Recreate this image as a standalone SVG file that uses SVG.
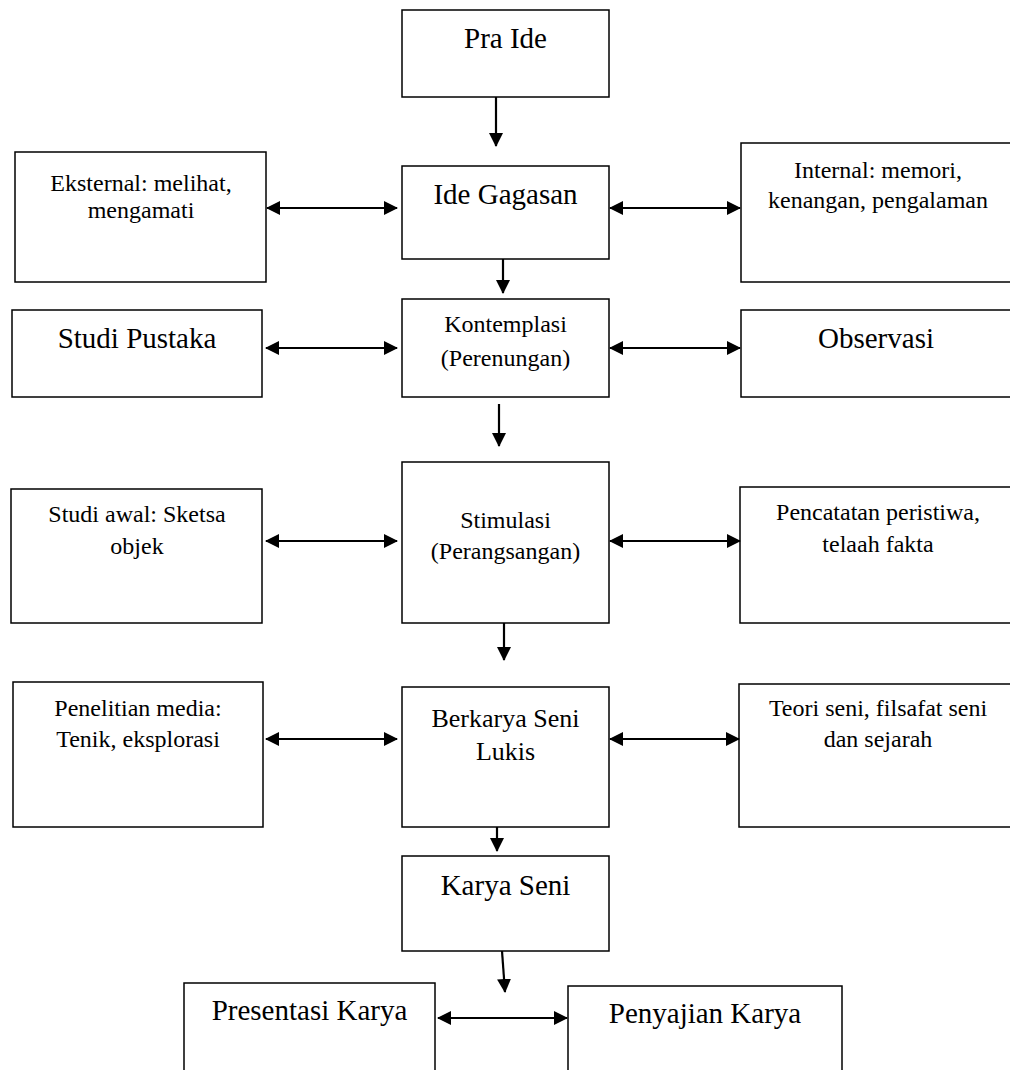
<svg xmlns="http://www.w3.org/2000/svg" width="1010" height="1070" viewBox="0 0 1010 1070">
<style>
.box{fill:#fff;stroke:#000;stroke-width:1.5}
.t{font-family:"Liberation Serif","Times New Roman",serif;fill:#000;text-anchor:middle}
.big{font-size:29px}
.mid{font-size:26px}
.sm{font-size:24px}
.c{stroke:#000;stroke-width:2.2;fill:none}
</style>
<defs>
<marker id="ah" viewBox="0 0 14 14" refX="13" refY="7" markerWidth="14" markerHeight="14" markerUnits="userSpaceOnUse" orient="auto-start-reverse">
<path d="M0,0 L14,7 L0,14 z" fill="#000"/>
</marker>
</defs>
<rect width="1010" height="1070" fill="#fff"/>
<g id="pra-ide"><rect class="box" x="402" y="10" width="207" height="87"/><text class="t big" x="505.5" y="48">Pra Ide</text></g>
<g id="ide-gagasan"><rect class="box" x="402" y="166" width="207" height="93"/><text class="t big" x="505.5" y="204">Ide Gagasan</text></g>
<g id="eksternal"><rect class="box" x="15" y="152" width="251" height="130"/><text class="t sm" x="141" y="191">Eksternal: melihat,</text><text class="t sm" x="141" y="218">mengamati</text></g>
<g id="internal"><rect class="box" x="741" y="143" width="274" height="139"/><text class="t sm" x="878" y="178">Internal: memori,</text><text class="t sm" x="878" y="208">kenangan, pengalaman</text></g>
<g id="kontemplasi"><rect class="box" x="402" y="299" width="207" height="98"/><text class="t sm" x="505.5" y="332">Kontemplasi</text><text class="t sm" x="505.5" y="366">(Perenungan)</text></g>
<g id="studi-pustaka"><rect class="box" x="12" y="310" width="250" height="87"/><text class="t big" x="137" y="348">Studi Pustaka</text></g>
<g id="observasi"><rect class="box" x="741" y="310" width="274" height="87"/><text class="t big" x="876" y="348">Observasi</text></g>
<g id="stimulasi"><rect class="box" x="402" y="462" width="207" height="161"/><text class="t sm" x="505.5" y="528">Stimulasi</text><text class="t sm" x="505.5" y="559">(Perangsangan)</text></g>
<g id="studi-awal"><rect class="box" x="11" y="489" width="251" height="134"/><text class="t sm" x="137" y="522">Studi awal: Sketsa</text><text class="t sm" x="137" y="554">objek</text></g>
<g id="pencatatan"><rect class="box" x="740" y="487" width="275" height="136"/><text class="t sm" x="878" y="520">Pencatatan peristiwa,</text><text class="t sm" x="878" y="552">telaah fakta</text></g>
<g id="berkarya"><rect class="box" x="402" y="687" width="207" height="140"/><text class="t mid" x="505.5" y="727">Berkarya Seni</text><text class="t mid" x="505.5" y="760">Lukis</text></g>
<g id="penelitian"><rect class="box" x="13" y="682" width="250" height="145"/><text class="t sm" x="138" y="716">Penelitian media:</text><text class="t sm" x="138" y="747">Tenik, eksplorasi</text></g>
<g id="teori"><rect class="box" x="739" y="684" width="276" height="143"/><text class="t sm" x="878" y="716">Teori seni, filsafat seni</text><text class="t sm" x="878" y="747">dan sejarah</text></g>
<g id="karya-seni"><rect class="box" x="402" y="856" width="207" height="95"/><text class="t big" x="505.5" y="895">Karya Seni</text></g>
<g id="presentasi"><rect class="box" x="184" y="983" width="251" height="100"/><text class="t big" x="309.5" y="1020">Presentasi Karya</text></g>
<g id="penyajian"><rect class="box" x="568" y="986" width="274" height="100"/><text class="t big" x="705" y="1023">Penyajian Karya</text></g>
<g id="connectors">
<line class="c" x1="496" y1="97" x2="496" y2="146" marker-end="url(#ah)"/>
<line class="c" x1="503" y1="259" x2="503" y2="293" marker-end="url(#ah)"/>
<line class="c" x1="499" y1="404" x2="499" y2="446" marker-end="url(#ah)"/>
<line class="c" x1="504" y1="623" x2="504" y2="660" marker-end="url(#ah)"/>
<line class="c" x1="497" y1="827" x2="497" y2="851" marker-end="url(#ah)"/>
<line class="c" x1="502" y1="951" x2="505" y2="992" marker-end="url(#ah)"/>
<line class="c" x1="267" y1="208" x2="397" y2="208" marker-start="url(#ah)" marker-end="url(#ah)"/>
<line class="c" x1="610" y1="208" x2="740" y2="208" marker-start="url(#ah)" marker-end="url(#ah)"/>
<line class="c" x1="266" y1="348" x2="397" y2="348" marker-start="url(#ah)" marker-end="url(#ah)"/>
<line class="c" x1="610" y1="348" x2="740" y2="348" marker-start="url(#ah)" marker-end="url(#ah)"/>
<line class="c" x1="266" y1="541" x2="397" y2="541" marker-start="url(#ah)" marker-end="url(#ah)"/>
<line class="c" x1="610" y1="541" x2="740" y2="541" marker-start="url(#ah)" marker-end="url(#ah)"/>
<line class="c" x1="266" y1="739" x2="397" y2="739" marker-start="url(#ah)" marker-end="url(#ah)"/>
<line class="c" x1="610" y1="739" x2="739" y2="739" marker-start="url(#ah)" marker-end="url(#ah)"/>
<line class="c" x1="438" y1="1018" x2="567" y2="1018" marker-start="url(#ah)" marker-end="url(#ah)"/>
</g>
</svg>
